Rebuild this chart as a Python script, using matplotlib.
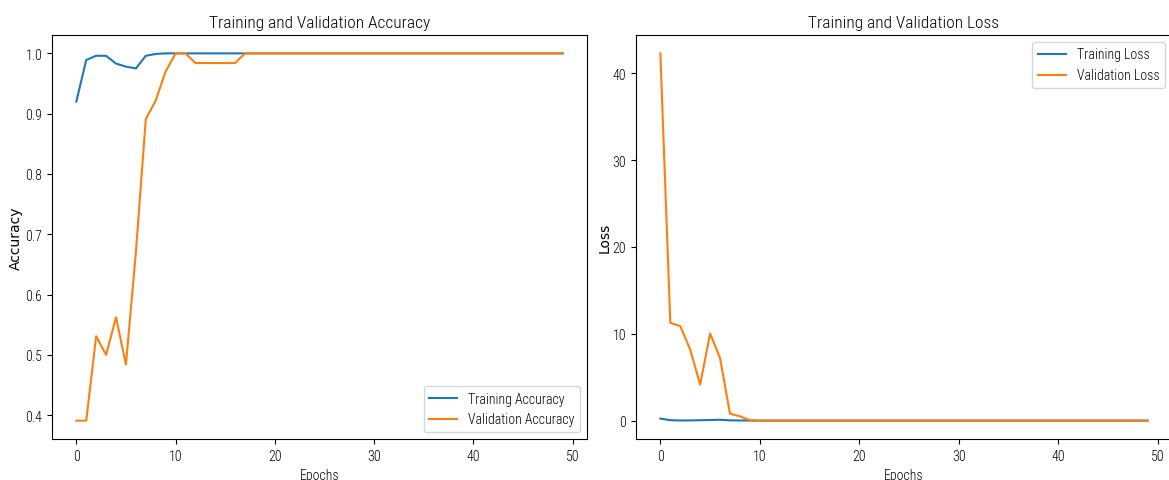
import matplotlib
matplotlib.use("Agg")
import matplotlib.pyplot as plt
from matplotlib import font_manager

# values
epochs = list(range(50))
train_acc = [0.920, 0.989, 0.996, 0.996, 0.983, 0.978, 0.975, 0.996, 0.999, 1.0] + [1.0] * 40
val_acc = [0.391, 0.391, 0.531, 0.500, 0.5625, 0.484, 0.67, 0.891, 0.922, 0.970,
           1.0, 1.0, 0.984, 0.984, 0.984, 0.984, 0.984] + [1.0] * 33
train_loss = [0.24, 0.05, 0.02, 0.02, 0.05, 0.07, 0.10, 0.03, 0.02, 0.01] + [0.0] * 40
val_loss = [42.3, 11.26, 10.9, 8.18, 4.15, 10.03, 7.22, 0.8, 0.5, 0.05] + [0.0] * 40

# the reference text is squeezed sideways, so use a condensed face
names = {f.name for f in font_manager.fontManager.ttflist}
family = "DejaVu Sans"
for cand in ["Roboto Condensed", "Open Sans Condensed", "Barlow Semi Condensed"]:
    if cand in names:
        family = cand
        break
plt.rcParams["font.family"] = [family, "DejaVu Sans"]
plt.rcParams["font.weight"] = "light"
plt.rcParams["axes.titleweight"] = "light"
plt.rcParams["axes.labelweight"] = "light"

fig = plt.figure(figsize=(11.69, 4.81), dpi=100)
W, H = 1169, 481
ax1 = fig.add_axes([52 / W, 41 / H, 535 / W, 404 / H])
ax2 = fig.add_axes([636 / W, 41 / H, 536 / W, 404 / H])

ax1.plot(epochs, train_acc, label="Training Accuracy")
ax1.plot(epochs, val_acc, label="Validation Accuracy")
ax1.set_title("Training and Validation Accuracy", fontsize=12.5)
ax1.set_xlabel("Epochs")
ax1.set_ylabel("Accuracy", family="DejaVu Sans", weight="normal", labelpad=2)
ax1.legend(loc="lower right")

ax2.plot(epochs, train_loss, label="Training Loss")
ax2.plot(epochs, val_loss, label="Validation Loss")
ax2.set_title("Training and Validation Loss", fontsize=12.5)
ax2.set_xlabel("Epochs")
ax2.set_ylabel("Loss", family="DejaVu Sans", weight="normal", labelpad=1)
ax2.legend(loc="upper right")

fig.savefig("out.png", dpi=100)
